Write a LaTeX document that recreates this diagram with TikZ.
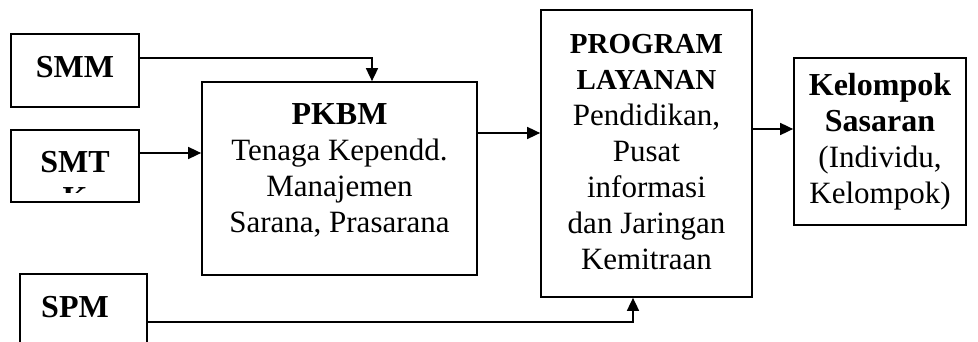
\documentclass[tikz,border=0pt]{standalone}
\usepackage{fontspec}
\setmainfont{Liberation Serif}
\usetikzlibrary{arrows.meta}
\begin{document}
\begin{tikzpicture}[x=1pt,y=-1pt,
  box/.style={draw, line width=1.7pt, inner sep=0pt},
  txt/.style={font=\fontsize{31}{36}\selectfont, align=center, inner sep=0pt},
  hd/.style={font=\fontsize{32}{36}\selectfont\bfseries},
  hds/.style={font=\fontsize{29}{36}\selectfont\bfseries},
  arr/.style={line width=1.6pt, -{Triangle[length=13pt,width=12pt]}}]
\useasboundingbox (0,0) rectangle (978,342);

% boxes
\node[box, minimum width=128pt, minimum height=73pt] (smm) at (75,70.5) {};
\node[box, minimum width=128pt, minimum height=72pt] (smt) at (75,166) {};
\node[box, minimum width=127pt, minimum height=86pt] (spm) at (83.5,317) {};
\node[box, minimum width=275pt, minimum height=193pt] (pkbm) at (339.5,178.5) {};
\node[box, minimum width=211pt, minimum height=287pt] (prog) at (646.5,153.5) {};
\node[box, minimum width=172pt, minimum height=167pt] (kel) at (880,141.5) {};

% labels
\node[txt, hd] (smmt) at (75,67) {SMM};
\begin{scope}
  \clip (11,130) rectangle (139,193);
  \node[txt, hd] (smtt) at (75,180) {SMT\\K};
\end{scope}
\node[txt, hd] (spmt) at (75,307) {SPM};
\node[txt] (pkbmt) at (339.5,170) {{\fontsize{32}{36}\selectfont\bfseries PKBM}\\Tenaga Kependd.\\Manajemen\\Sarana, Prasarana};
\node[txt] (progt) at (646.5,152) {{\fontsize{29}{36}\selectfont\bfseries PROGRAM}\\{\fontsize{29}{36}\selectfont\bfseries LAYANAN}\\Pendidikan,\\Pusat\\informasi\\dan Jaringan\\Kemitraan};
\node[txt] (kelt) at (880,142) {{\fontsize{32}{36}\selectfont\bfseries Kelompok}\\{\fontsize{32}{36}\selectfont\bfseries Sasaran}\\(Individu,\\Kelompok)};

% connector levels
\coordinate (ySmm) at (0,58);
\coordinate (xSmm) at (372,0);
\coordinate (ySmt) at (0,153);
\coordinate (yPk) at (0,133);
\coordinate (yPr) at (0,129);
\coordinate (ySpm) at (0,322);
\coordinate (xSpm) at (633,0);

% connectors
\draw[arr] (smm.east |- ySmm) -| (pkbm.north -| xSmm);
\draw[arr] (smt.east |- ySmt) -- (pkbm.west |- ySmt);
\draw[arr] (pkbm.east |- yPk) -- (prog.west |- yPk);
\draw[arr] (prog.east |- yPr) -- (kel.west |- yPr);
\draw[arr] (spm.east |- ySpm) -| (prog.south -| xSpm);
\end{tikzpicture}
\end{document}
